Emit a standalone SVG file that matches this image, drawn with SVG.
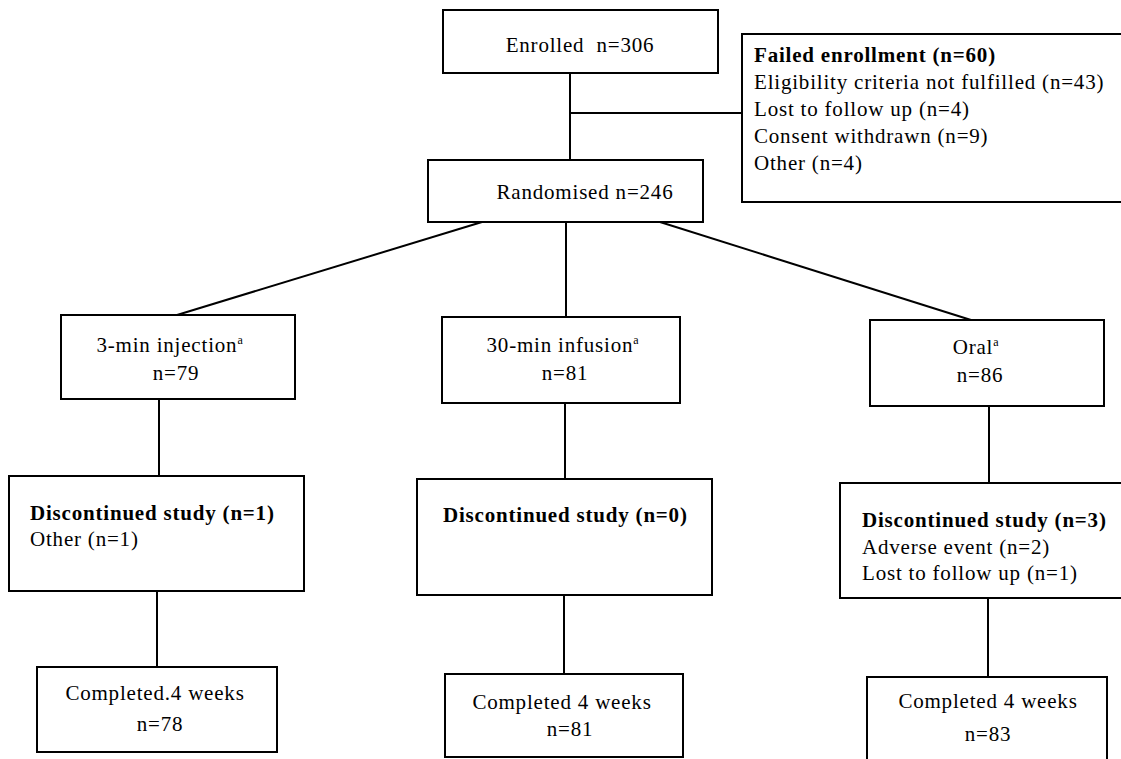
<svg xmlns="http://www.w3.org/2000/svg" width="1121" height="759" viewBox="0 0 1121 759">
<style>
.box{fill:#fff;stroke:#000;stroke-width:2}
.ln{stroke:#000;stroke-width:2;fill:none}
.t{font-family:"Liberation Serif","Times New Roman",serif;font-size:21px;fill:#000;letter-spacing:0.8px}
.b{font-weight:bold}
.m{text-anchor:middle}
.sup{font-size:12px}
</style>
<rect width="1121" height="759" fill="#fff"/>
<g id="connectors">
<line class="ln" x1="570" y1="73" x2="570" y2="160"/>
<line class="ln" x1="570" y1="113" x2="742" y2="113"/>
<line class="ln" x1="482" y1="222" x2="177" y2="315"/>
<line class="ln" x1="566" y1="222" x2="566" y2="317"/>
<line class="ln" x1="660" y1="222" x2="971" y2="320"/>
<line class="ln" x1="159" y1="399" x2="159" y2="476"/>
<line class="ln" x1="565" y1="403" x2="565" y2="479"/>
<line class="ln" x1="989" y1="406" x2="989" y2="483"/>
<line class="ln" x1="157" y1="591" x2="157" y2="667"/>
<line class="ln" x1="564" y1="595" x2="564" y2="674"/>
<line class="ln" x1="988" y1="598" x2="988" y2="677"/>
</g>
<g id="enrolled">
<rect class="box" x="443" y="10" width="275" height="63"/>
<text class="t m" x="580" y="52" word-spacing="6">Enrolled n=306</text>
</g>
<g id="failed">
<rect class="box" x="742" y="34" width="400" height="168"/>
<text class="t b" x="754" y="62">Failed enrollment (n=60)</text>
<text class="t" x="754" y="89">Eligibility criteria not fulfilled (n=43)</text>
<text class="t" x="754" y="116">Lost to follow up (n=4)</text>
<text class="t" x="754" y="143">Consent withdrawn (n=9)</text>
<text class="t" x="754" y="170">Other (n=4)</text>
</g>
<g id="randomised">
<rect class="box" x="428" y="160" width="275" height="62"/>
<text class="t m" x="585" y="199">Randomised n=246</text>
</g>
<g id="injection">
<rect class="box" x="61" y="315" width="234" height="84"/>
<text class="t m" x="170" y="352">3-min injection<tspan class="sup" dy="-8">a</tspan></text>
<text class="t m" x="176" y="380">n=79</text>
</g>
<g id="infusion">
<rect class="box" x="442" y="317" width="238" height="86"/>
<text class="t m" x="563" y="352">30-min infusion<tspan class="sup" dy="-8">a</tspan></text>
<text class="t m" x="565" y="380">n=81</text>
</g>
<g id="oral">
<rect class="box" x="870" y="320" width="234" height="86"/>
<text class="t m" x="976" y="354">Oral<tspan class="sup" dy="-8">a</tspan></text>
<text class="t m" x="980" y="382">n=86</text>
</g>
<g id="disc1">
<rect class="box" x="9" y="476" width="295" height="115"/>
<text class="t b" x="30" y="520">Discontinued study (n=1)</text>
<text class="t" x="30" y="546">Other (n=1)</text>
</g>
<g id="disc0">
<rect class="box" x="417" y="479" width="295" height="116"/>
<text class="t b" x="443" y="522">Discontinued study (n=0)</text>
</g>
<g id="disc3">
<rect class="box" x="840" y="483" width="300" height="115"/>
<text class="t b" x="862" y="527">Discontinued study (n=3)</text>
<text class="t" x="862" y="554">Adverse event (n=2)</text>
<text class="t" x="862" y="580">Lost to follow up (n=1)</text>
</g>
<g id="completed1">
<rect class="box" x="37" y="667" width="240" height="85"/>
<text class="t m" x="155" y="700">Completed.4 weeks</text>
<text class="t m" x="160" y="731">n=78</text>
</g>
<g id="completed2">
<rect class="box" x="445" y="674" width="238" height="83"/>
<text class="t m" x="562" y="709">Completed 4 weeks</text>
<text class="t m" x="570" y="736">n=81</text>
</g>
<g id="completed3">
<rect class="box" x="867" y="677" width="240" height="100"/>
<text class="t m" x="988" y="708">Completed 4 weeks</text>
<text class="t m" x="988" y="741">n=83</text>
</g>
</svg>
